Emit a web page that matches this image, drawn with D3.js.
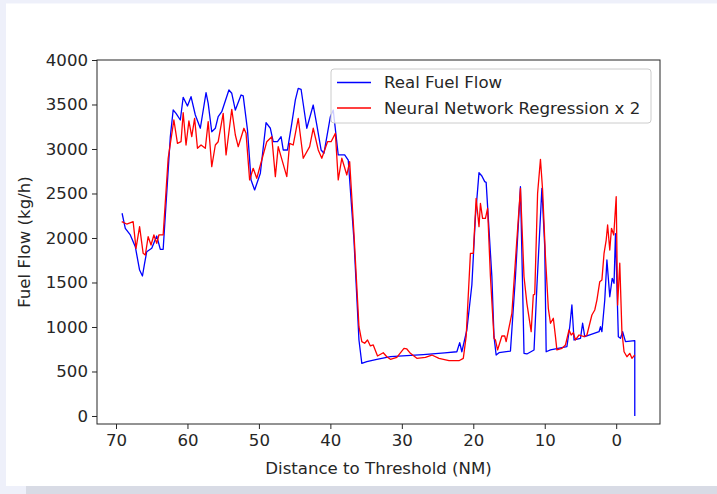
<!DOCTYPE html>
<html><head><meta charset="utf-8">
<script src="https://cdn.jsdelivr.net/npm/d3@7/dist/d3.min.js"></script>
<style>
html,body{margin:0;padding:0;background:#eef0fa;}
svg{display:block;}
text{font-family:"DejaVu Sans",sans-serif;fill:#262626;}
</style></head><body>
<svg id="c" width="717" height="494"></svg>
<script>
const seriesNames = ["Real Fuel Flow", "Neural Network Regression x 2"];
const xTicks = [70, 60, 50, 40, 30, 20, 10, 0];
const yTicks = [0, 500, 1000, 1500, 2000, 2500, 3000, 3500, 4000];

const blueDist = [69.15,68.7,68.0,67.3,66.7,66.3,66.0,65.7,65.0,64.3,63.8,63.4,62.4,62.0,61.6,61.0,60.6,60.0,59.5,58.9,58.2,57.4,57.1,56.6,56.1,55.7,55.2,54.2,53.8,53.3,52.5,52.2,51.6,51.1,50.6,49.8,49.0,48.4,48.0,47.4,46.9,46.6,46.0,45.4,44.9,44.5,44.1,43.3,42.4,41.9,41.3,40.9,40.0,39.6,38.9,38.0,37.5,36.7,36.0,35.6,34.9,33.5,31.6,27.0,24.0,22.3,21.9,21.6,20.9,20.2,19.7,19.2,18.8,18.4,18.2,17.4,17.1,16.8,16.4,14.8,14.1,13.4,12.9,12.5,11.5,11.1,10.4,10.0,9.8,9.2,6.9,6.5,6.2,5.9,5.0,4.7,4.4,2.4,2.2,2.0,1.6,1.3,0.9,0.56,0.3,0.1,-0.3,-0.6,-0.9,-1.3,-2.6,-2.6];
const blueVal = [2278,2109,2034,1902,1640,1573,1716,1846,1884,2022,1873,1873,3138,3438,3401,3326,3581,3483,3588,3382,3233,3633,3513,3194,3233,3363,3419,3663,3626,3438,3607,3596,3213,2652,2540,2727,3296,3233,3082,3082,3138,2989,2989,3289,3551,3682,3671,3233,3494,3270,2989,2952,3363,3438,2933,2933,2876,1977,854,592,610,637,666,690,710,722,824,722,966,1472,2239,2734,2697,2633,2625,1565,891,685,711,730,1565,2576,704,697,742,1453,2558,1902,722,742,779,1003,1247,854,873,1042,891,947,1003,947,1303,1753,1340,1547,1491,2050,891,873,947,835,846,0];

const redDist = [69.2,68.5,67.6,67.2,66.7,66.2,65.9,65.5,65.1,64.7,64.3,64.0,63.4,62.7,61.9,61.4,60.9,60.6,60.2,59.8,59.4,59.0,58.6,58.1,57.5,57.1,56.6,56.1,55.7,55.0,54.6,53.8,53.3,52.9,52.1,51.8,51.3,50.8,50.3,49.6,48.9,48.2,47.7,47.3,46.1,45.7,45.2,44.5,43.8,42.9,42.4,41.7,41.2,40.4,39.9,39.3,38.9,38.4,37.7,37.3,36.7,36.0,35.6,35.2,34.8,34.4,34.0,33.4,32.6,32.1,31.6,30.7,29.7,29.3,28.8,27.9,26.7,25.8,24.8,23.4,22.0,21.4,21.0,20.4,20.0,19.6,19.2,19.0,18.7,18.3,18.0,17.6,17.1,16.9,16.6,16.0,15.6,15.4,14.6,14.0,13.4,12.9,12.5,11.9,11.6,11.4,11.0,10.6,10.3,9.9,9.5,9.2,8.8,8.5,8.3,7.6,7.1,6.6,6.3,6.0,5.7,5.2,4.5,4.1,3.4,3.0,2.7,2.3,2.0,1.7,1.4,1.2,0.9,0.66,0.34,0.0,-0.2,-0.5,-0.8,-1.1,-1.5,-1.9,-2.2,-2.6];
const redVal = [2183,2157,2183,1884,2127,1828,1809,2015,1921,2034,1940,2034,2034,2896,3326,3064,3082,3408,3045,3315,3138,3345,3008,3045,3008,3307,2801,3045,3082,3401,2933,3446,3157,3026,3233,3176,2652,2783,2671,2876,3082,3138,2689,3026,2689,3064,3045,3345,2896,3026,3233,2989,2896,3082,3082,3176,2652,2896,2708,2857,2053,1003,835,817,854,787,798,674,711,666,637,659,760,753,704,648,659,685,648,621,621,648,891,1828,1828,2446,2127,2390,2221,2221,2334,1565,873,854,742,899,899,835,1154,1865,2558,1565,1266,947,1360,1367,2502,2884,2539,1790,1210,1042,1098,891,742,760,798,966,910,936,854,910,891,910,1135,1191,1303,1509,1528,1828,1977,2146,1865,2109,2034,2464,1247,1716,947,722,666,704,648,685];

const FS = "16.6px";
const svg = d3.select("#c");
// page card
svg.append("rect").attr("x",6).attr("y",3.5).attr("width",711).attr("height",482.5).attr("fill","#ffffff");
svg.append("rect").attr("x",26).attr("y",486).attr("width",691).attr("height",8).attr("fill","#d8dbe5");

const L = 97, R = 660, T = 60, B = 424;
const x = d3.scaleLinear().domain([72.66, -6.13]).range([L, R]);
const y = d3.scaleLinear().domain([-90, 4000]).range([B, T]);

const g = svg.append("g");
svg.append("clipPath").attr("id","pa").append("rect").attr("x",L).attr("y",T).attr("width",R-L).attr("height",B-T);

const line = d3.line().x(d => x(d[0])).y(d => y(d[1]));
const blue = blueDist.map((d,i)=>[d, blueVal[i]]);
const red = redDist.map((d,i)=>[d, redVal[i]]);
g.append("path").attr("d", line(blue)).attr("fill","none").attr("stroke","#0000ff").attr("stroke-width",1.3).attr("clip-path","url(#pa)").attr("stroke-linejoin","round");
g.append("path").attr("d", line(red)).attr("fill","none").attr("stroke","#ff0000").attr("stroke-width",1.3).attr("clip-path","url(#pa)").attr("stroke-linejoin","round");

// axes
const xAxis = d3.axisBottom(x).tickValues(xTicks).tickSize(5).tickPadding(4).tickFormat(d3.format("d"));
const yAxis = d3.axisLeft(y).tickValues(yTicks).tickSize(5).tickPadding(4).tickFormat(d3.format("d"));
const gx = svg.append("g").attr("transform",`translate(0,${B})`).call(xAxis);
const gy = svg.append("g").attr("transform",`translate(${L},0)`).call(yAxis);
[gx, gy].forEach(a => {
  a.select(".domain").remove();
  a.selectAll("line").attr("stroke","#262626").attr("stroke-width",1);
  a.selectAll("text").style("font-size",FS).attr("fill","#262626");
});
gx.selectAll("text").attr("dy","0.8em");

svg.append("rect").attr("x",L).attr("y",T).attr("width",R-L).attr("height",B-T).attr("fill","none").attr("stroke","#262626").attr("stroke-width",1);

svg.append("text").attr("x",(L+R)/2).attr("y",474).attr("text-anchor","middle").style("font-size",FS).text("Distance to Threshold (NM)");
svg.append("text").attr("transform",`translate(30,${(T+B)/2}) rotate(-90)`).attr("text-anchor","middle").style("font-size",FS).text("Fuel Flow (kg/h)");

// legend
const lg = svg.append("g");
lg.append("rect").attr("x",331).attr("y",69).attr("width",320).attr("height",54).attr("rx",3)
  .attr("fill","#ffffff").attr("fill-opacity",0.8).attr("stroke","#cccccc").attr("stroke-width",1);
const colors = ["#0000ff","#ff0000"];
seriesNames.forEach((n,i) => {
  const yy = 82.5 + i*25.5;
  lg.append("line").attr("x1",337).attr("x2",371).attr("y1",yy).attr("y2",yy).attr("stroke",colors[i]).attr("stroke-width",1.3);
  lg.append("text").attr("x",384).attr("y",yy).attr("dy","0.35em").style("font-size",FS).text(n);
});
</script>
</body></html>
